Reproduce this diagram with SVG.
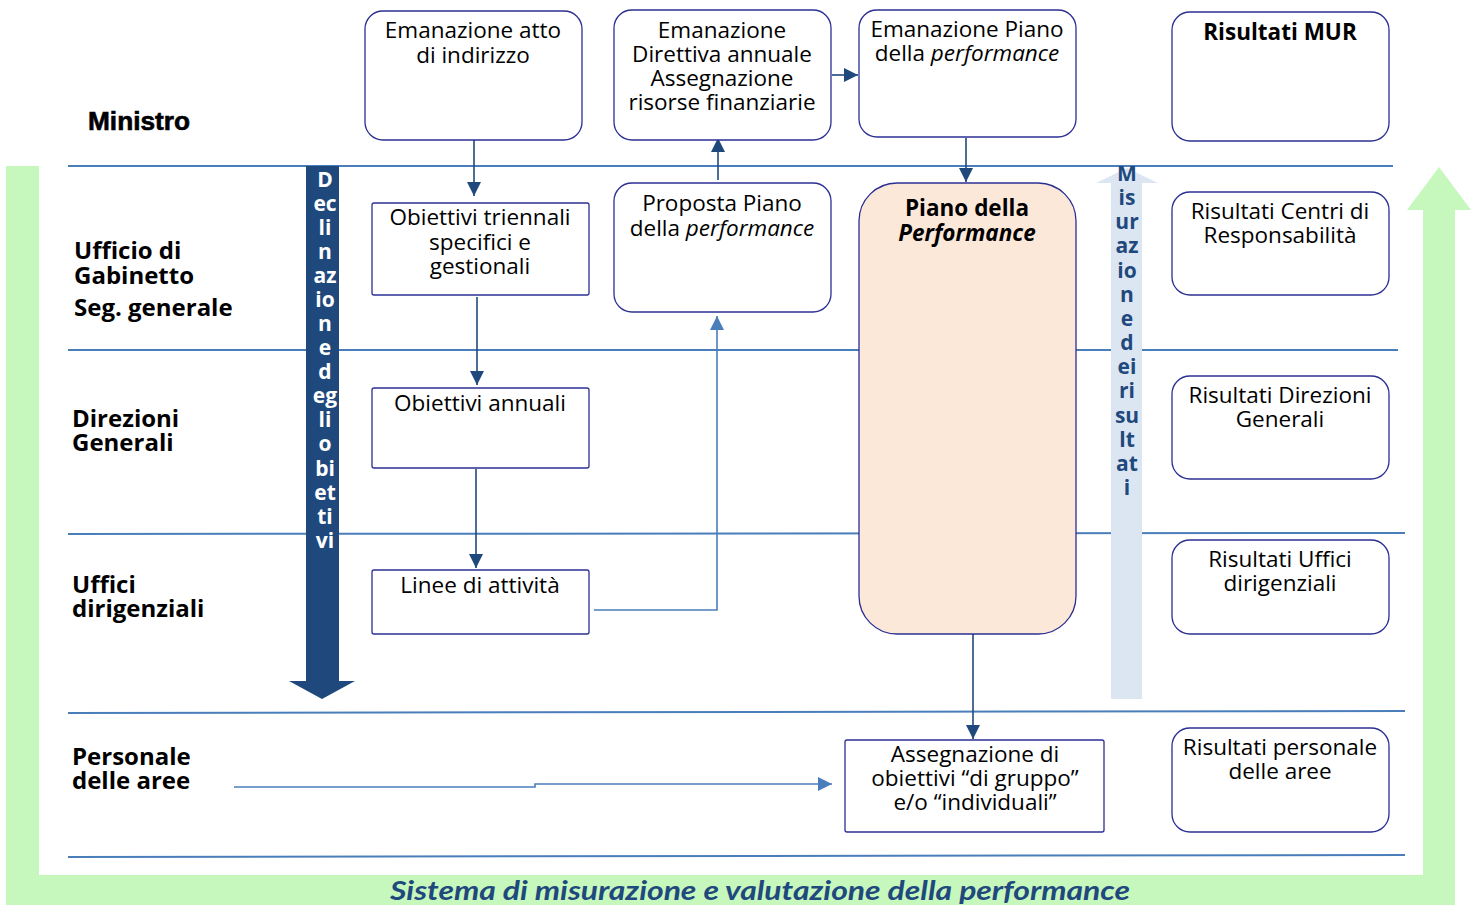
<svg xmlns="http://www.w3.org/2000/svg" width="1472" height="905" viewBox="0 0 1472 905">
<style>
.box{fill:#fff;stroke:#2b2f91;stroke-width:1.3}
.t{font-family:"Open Sans","Liberation Sans",sans-serif;font-size:22.5px;fill:#000;text-anchor:middle}
.lane{font-family:"Open Sans","Liberation Sans",sans-serif;font-size:24px;font-weight:bold;fill:#000}
.hl{stroke:#4a7ebb;stroke-width:2;fill:none}
.c1{stroke:#1f497d;stroke-width:1.6;fill:none}
.c2{stroke:#4a7ebb;stroke-width:1.6;fill:none}
.vw{font-family:"Open Sans","Liberation Sans",sans-serif;font-size:21px;font-weight:bold;fill:#fff;text-anchor:middle}
.vb{font-family:"Open Sans","Liberation Sans",sans-serif;font-size:21px;font-weight:bold;fill:#1f497d;text-anchor:middle}
</style>
<defs>
<marker id="a1" viewBox="0 0 10 10" refX="10" refY="5" markerWidth="14" markerHeight="14" markerUnits="userSpaceOnUse" orient="auto"><path d="M0,0L10,5L0,10z" fill="#1f497d"/></marker>
<marker id="a2" viewBox="0 0 10 10" refX="10" refY="5" markerWidth="14" markerHeight="14" markerUnits="userSpaceOnUse" orient="auto"><path d="M0,0L10,5L0,10z" fill="#4a7ebb"/></marker>
</defs>
<rect width="1472" height="905" fill="#fff"/>
<g id="frame">
<path d="M6,166H39V875H1423V210H1407L1439,167L1471,210H1455V905H6Z" fill="#c6f7bd"/>
<text x="760" y="900" font-family="Lato,'Liberation Sans',sans-serif" font-size="27" font-weight="bold" font-style="italic" fill="#1f497d" text-anchor="middle" textLength="740" lengthAdjust="spacingAndGlyphs">Sistema di misurazione e valutazione della performance</text>
</g>
<g id="lanes">
<line class="hl" x1="68" y1="166" x2="1393" y2="166"/>
<line class="hl" x1="68" y1="350" x2="1398" y2="350"/>
<line class="hl" x1="68" y1="534" x2="1405" y2="533"/>
<line class="hl" x1="68" y1="713" x2="1405" y2="711"/>
<line class="hl" x1="68" y1="857" x2="1405" y2="855"/>
<text x="88" y="130" font-family="'Liberation Sans',sans-serif" font-size="25" font-weight="bold" stroke="#000" stroke-width="0.6" textLength="102" lengthAdjust="spacingAndGlyphs">Ministro</text>
<text class="lane" x="74" y="259">Ufficio di</text>
<text class="lane" x="74" y="284">Gabinetto</text>
<text class="lane" x="74" y="316">Seg. generale</text>
<text class="lane" x="72" y="427">Direzioni</text>
<text class="lane" x="72" y="451">Generali</text>
<text class="lane" x="72" y="593">Uffici</text>
<text class="lane" x="72" y="617">dirigenziali</text>
<text class="lane" x="72" y="765">Personale</text>
<text class="lane" x="72" y="789">delle aree</text>
</g>
<g id="declinazione">
<path d="M306,166H339V681H355L322,699L289,681H306Z" fill="#1f497d"/>
<text class="vw" x="325" y="187">D</text><text class="vw" x="325" y="211">ec</text><text class="vw" x="325" y="235">li</text><text class="vw" x="325" y="259">n</text><text class="vw" x="325" y="283">az</text><text class="vw" x="325" y="307">io</text><text class="vw" x="325" y="331">n</text><text class="vw" x="325" y="355">e</text><text class="vw" x="325" y="379">d</text><text class="vw" x="325" y="403">eg</text><text class="vw" x="325" y="427">li</text><text class="vw" x="325" y="451">o</text><text class="vw" x="325" y="476">bi</text><text class="vw" x="325" y="500">et</text><text class="vw" x="325" y="524">ti</text><text class="vw" x="325" y="548">vi</text>
</g>
<g id="misurazione">
<path d="M1111,699V183H1096L1127,168L1158,183H1142V699Z" fill="#dce6f2"/>
<text class="vb" x="1127" y="181">M</text><text class="vb" x="1127" y="205">is</text><text class="vb" x="1127" y="229">ur</text><text class="vb" x="1127" y="253">az</text><text class="vb" x="1127" y="278">io</text><text class="vb" x="1127" y="302">n</text><text class="vb" x="1127" y="326">e</text><text class="vb" x="1127" y="350">d</text><text class="vb" x="1127" y="374">ei</text><text class="vb" x="1127" y="398">ri</text><text class="vb" x="1127" y="423">su</text><text class="vb" x="1127" y="447">lt</text><text class="vb" x="1127" y="471">at</text><text class="vb" x="1127" y="495">i</text>
</g>
<g id="connectors">
<line class="c1" x1="474" y1="140" x2="474" y2="196" marker-end="url(#a1)"/>
<line class="c1" x1="477" y1="297" x2="477" y2="385" marker-end="url(#a1)"/>
<line class="c1" x1="476" y1="469" x2="476" y2="568" marker-end="url(#a1)"/>
<line class="c1" x1="718" y1="180" x2="718" y2="138" marker-end="url(#a1)"/>
<line class="c1" x1="832" y1="75" x2="858" y2="75" marker-end="url(#a1)"/>
<line class="c1" x1="966" y1="138" x2="966" y2="182" marker-end="url(#a1)"/>
<line class="c1" x1="973" y1="634" x2="973" y2="739" marker-end="url(#a1)"/>
<polyline class="c2" points="594,610 717,610 717,316" marker-end="url(#a2)"/>
<polyline class="c2" points="234,787 535,787 535,784 832,784" marker-end="url(#a2)"/>
</g>
<g id="n1"><rect class="box" x="365" y="11" width="217" height="129" rx="18"/><text class="t" x="473" y="38">Emanazione atto</text><text class="t" x="473" y="63">di indirizzo</text></g>
<g id="n2"><rect class="box" x="614" y="10" width="217" height="130" rx="18"/><text class="t" x="722" y="38">Emanazione</text><text class="t" x="722" y="62">Direttiva annuale</text><text class="t" x="722" y="86">Assegnazione</text><text class="t" x="722" y="110">risorse finanziarie</text></g>
<g id="n3"><rect class="box" x="859" y="10" width="217" height="127" rx="18"/><text class="t" x="967" y="37">Emanazione Piano</text><text class="t" x="967" y="61">della <tspan font-style="italic">performance</tspan></text></g>
<g id="n4"><rect class="box" x="1172" y="12" width="217" height="129" rx="18"/><text class="t" x="1280" y="40" font-weight="bold">Risultati MUR</text></g>
<g id="n5"><rect class="box" x="372" y="203" width="217" height="92" rx="2"/><text class="t" x="480" y="225">Obiettivi triennali</text><text class="t" x="480" y="250">specifici e</text><text class="t" x="480" y="274">gestionali</text></g>
<g id="n6"><rect class="box" x="614" y="183" width="217" height="129" rx="18"/><text class="t" x="722" y="211">Proposta Piano</text><text class="t" x="722" y="236">della <tspan font-style="italic">performance</tspan></text></g>
<g id="n7"><rect class="box" x="859" y="183" width="217" height="451" rx="38" style="fill:#fce8d9"/><text class="t" x="967" y="216" font-weight="bold">Piano della</text><text class="t" x="967" y="241" font-weight="bold" font-style="italic">Performance</text></g>
<g id="n8"><rect class="box" x="1172" y="192" width="217" height="103" rx="18"/><text class="t" x="1280" y="219">Risultati Centri di</text><text class="t" x="1280" y="243">Responsabilità</text></g>
<g id="n9"><rect class="box" x="372" y="388" width="217" height="80" rx="2"/><text class="t" x="480" y="411">Obiettivi annuali</text></g>
<g id="n10"><rect class="box" x="1172" y="376" width="217" height="103" rx="18"/><text class="t" x="1280" y="403">Risultati Direzioni</text><text class="t" x="1280" y="427">Generali</text></g>
<g id="n11"><rect class="box" x="372" y="570" width="217" height="64" rx="2"/><text class="t" x="480" y="593">Linee di attività</text></g>
<g id="n12"><rect class="box" x="1172" y="540" width="217" height="94" rx="18"/><text class="t" x="1280" y="567">Risultati Uffici</text><text class="t" x="1280" y="591">dirigenziali</text></g>
<g id="n13"><rect class="box" x="845" y="740" width="259" height="92" rx="2"/><text class="t" x="975" y="762">Assegnazione di</text><text class="t" x="975" y="786">obiettivi “di gruppo”</text><text class="t" x="975" y="810">e/o “individuali”</text></g>
<g id="n14"><rect class="box" x="1172" y="728" width="217" height="104" rx="18"/><text class="t" x="1280" y="755">Risultati personale</text><text class="t" x="1280" y="779">delle aree</text></g>
</svg>
